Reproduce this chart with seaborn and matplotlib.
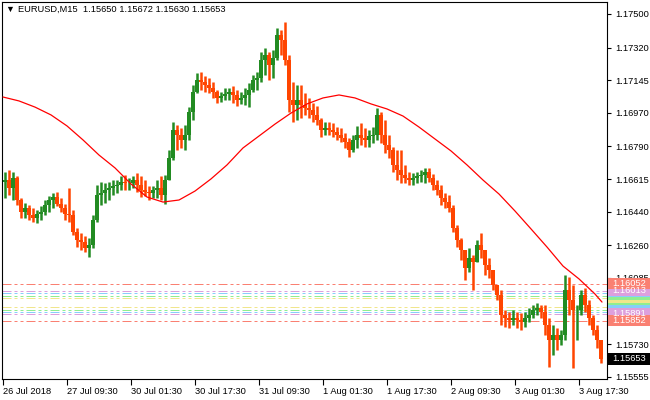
import numpy as np
import pandas as pd
import seaborn as sns
import matplotlib.pyplot as plt
from matplotlib.patches import Rectangle
import matplotlib.transforms as mtransforms

# EURUSD M15, 26 Jul - 3 Aug 2018, one hour (4 bars) at a time
bar_high = [
    1.16653, 1.16664, 1.16653, 1.16632, 1.16514, 1.16487, 1.16476, 1.16460, 1.16449, 1.16471,
    1.16503, 1.16524, 1.16540, 1.16546, 1.16514, 1.16482, 1.16567, 1.16449, 1.16353, 1.16326,
    1.16310, 1.16299, 1.16423, 1.16583, 1.16599, 1.16594, 1.16599, 1.16610, 1.16610, 1.16632,
    1.16637, 1.16621, 1.16632, 1.16648, 1.16632, 1.16610, 1.16578, 1.16578, 1.16610, 1.16632,
    1.16637, 1.16771, 1.16921, 1.16905, 1.16889, 1.16905, 1.17001, 1.17119, 1.17184, 1.17189,
    1.17168, 1.17157, 1.17135, 1.17093, 1.17082, 1.17103, 1.17103, 1.17114, 1.17093, 1.17082,
    1.17103, 1.17130, 1.17173, 1.17189, 1.17296, 1.17318, 1.17296, 1.17307, 1.17425, 1.17414,
    1.17457, 1.17280, 1.17135, 1.17119, 1.17119, 1.17076, 1.17050, 1.17023, 1.17007, 1.16943,
    1.16921, 1.16921, 1.16916, 1.16894, 1.16889, 1.16862, 1.16835, 1.16851, 1.16900, 1.16916,
    1.16889, 1.16878, 1.16894, 1.16996, 1.16975, 1.16932, 1.16851, 1.16787, 1.16771, 1.16771,
    1.16691, 1.16653, 1.16648, 1.16653, 1.16664, 1.16675, 1.16675, 1.16642, 1.16610, 1.16583,
    1.16540, 1.16530, 1.16476, 1.16369, 1.16299, 1.16235, 1.16246, 1.16208, 1.16289, 1.16326,
    1.16208, 1.16192, 1.16128, 1.16047, 1.16021, 1.15913, 1.15903, 1.15913, 1.15903, 1.15897,
    1.15903, 1.15924, 1.15940, 1.15951, 1.15940, 1.15940, 1.15870, 1.15833, 1.15817, 1.15806,
    1.16101, 1.16090, 1.16047, 1.15940, 1.16021, 1.16031, 1.15967, 1.15887, 1.15833, 1.15753,
]
bar_low = [
    1.16514, 1.16530, 1.16503, 1.16476, 1.16406, 1.16406, 1.16396, 1.16385, 1.16380, 1.16396,
    1.16423, 1.16439, 1.16460, 1.16471, 1.16439, 1.16396, 1.16385, 1.16315, 1.16251, 1.16235,
    1.16224, 1.16197, 1.16246, 1.16385, 1.16476, 1.16487, 1.16503, 1.16530, 1.16540, 1.16557,
    1.16557, 1.16557, 1.16567, 1.16546, 1.16519, 1.16524, 1.16503, 1.16514, 1.16514, 1.16503,
    1.16482, 1.16610, 1.16717, 1.16771, 1.16782, 1.16771, 1.16825, 1.16932, 1.17076, 1.17093,
    1.17082, 1.17076, 1.17050, 1.17023, 1.17028, 1.17039, 1.17039, 1.17023, 1.17007, 1.17018,
    1.17012, 1.17001, 1.17082, 1.17093, 1.17135, 1.17173, 1.17146, 1.17157, 1.17253, 1.17280,
    1.17227, 1.16975, 1.16921, 1.16932, 1.16943, 1.16959, 1.16943, 1.16921, 1.16905, 1.16841,
    1.16851, 1.16851, 1.16841, 1.16825, 1.16814, 1.16782, 1.16734, 1.16760, 1.16782, 1.16798,
    1.16787, 1.16787, 1.16809, 1.16825, 1.16809, 1.16755, 1.16728, 1.16653, 1.16610, 1.16594,
    1.16594, 1.16583, 1.16583, 1.16594, 1.16599, 1.16594, 1.16599, 1.16557, 1.16530, 1.16476,
    1.16460, 1.16439, 1.16331, 1.16251, 1.16181, 1.16074, 1.16117, 1.16021, 1.16171, 1.16192,
    1.16101, 1.16085, 1.16021, 1.15967, 1.15833, 1.15822, 1.15817, 1.15833, 1.15817, 1.15806,
    1.15822, 1.15849, 1.15870, 1.15887, 1.15870, 1.15779, 1.15608, 1.15672, 1.15699, 1.15726,
    1.15753, 1.15887, 1.15603, 1.15753, 1.15887, 1.15903, 1.15833, 1.15779, 1.15710, 1.15630,
]
bar_close = [
    1.16610, 1.16567, 1.16621, 1.16503, 1.16439, 1.16460, 1.16423, 1.16406, 1.16428, 1.16439,
    1.16476, 1.16503, 1.16519, 1.16482, 1.16460, 1.16428, 1.16423, 1.16331, 1.16289, 1.16278,
    1.16246, 1.16262, 1.16396, 1.16530, 1.16540, 1.16557, 1.16567, 1.16578, 1.16583, 1.16599,
    1.16594, 1.16594, 1.16610, 1.16583, 1.16557, 1.16546, 1.16540, 1.16557, 1.16567, 1.16530,
    1.16610, 1.16728, 1.16878, 1.16851, 1.16825, 1.16851, 1.16975, 1.17082, 1.17146, 1.17135,
    1.17119, 1.17103, 1.17082, 1.17050, 1.17060, 1.17071, 1.17082, 1.17066, 1.17039, 1.17050,
    1.17066, 1.17093, 1.17146, 1.17157, 1.17253, 1.17280, 1.17227, 1.17264, 1.17387, 1.17361,
    1.17253, 1.17039, 1.17012, 1.17039, 1.17012, 1.16996, 1.16985, 1.16959, 1.16932, 1.16878,
    1.16889, 1.16878, 1.16868, 1.16851, 1.16835, 1.16814, 1.16771, 1.16825, 1.16851, 1.16835,
    1.16825, 1.16846, 1.16851, 1.16959, 1.16851, 1.16798, 1.16771, 1.16691, 1.16664, 1.16637,
    1.16621, 1.16610, 1.16621, 1.16632, 1.16637, 1.16653, 1.16621, 1.16583, 1.16557, 1.16514,
    1.16492, 1.16460, 1.16353, 1.16289, 1.16235, 1.16139, 1.16192, 1.16171, 1.16262, 1.16235,
    1.16155, 1.16128, 1.16047, 1.15994, 1.15887, 1.15870, 1.15860, 1.15870, 1.15860, 1.15849,
    1.15870, 1.15887, 1.15913, 1.15924, 1.15903, 1.15833, 1.15753, 1.15779, 1.15753, 1.15779,
    1.16021, 1.15967, 1.15913, 1.15913, 1.15994, 1.15940, 1.15870, 1.15806, 1.15753, 1.15653,
]
first_open = 1.16600
bars_per_slot = 4

# moving average (red line), sampled every 16 M15 bars
ma_bar = [0, 16, 32, 48, 64, 80, 96, 112, 128, 144, 160, 176, 192, 208, 224, 240, 256, 272, 288,
          304, 320, 336, 352, 368, 384, 400, 416, 432, 448, 464, 480, 496, 512, 528, 544, 560,
          576, 592, 599]
ma_value = [1.17055, 1.17034, 1.17001, 1.16959, 1.16900, 1.16825, 1.16744, 1.16675, 1.16589,
            1.16519, 1.16492, 1.16503, 1.16551, 1.16616, 1.16691, 1.16782, 1.16846, 1.16910,
            1.16969, 1.17018, 1.17050, 1.17066, 1.17050, 1.17018, 1.16991, 1.16953, 1.16894,
            1.16830, 1.16766, 1.16691, 1.16610, 1.16535, 1.16444, 1.16348, 1.16251, 1.16149,
            1.16080, 1.15999, 1.15956]

# horizontal levels (upper / lower pairs), drawn inner first
level_upper = [1.15978, 1.15990, 1.16005, 1.16013, 1.16052]
level_lower = [1.15929, 1.15915, 1.15904, 1.15891, 1.15852]
level_colors = ['#F0E68C', '#90EE90', '#87CEFA', '#DDA0DD', '#FA8072']
level_labelled = [False, False, False, True, True]

y_ticks = [1.17500, 1.17320, 1.17145, 1.16970, 1.16790, 1.16615, 1.16440, 1.16260,
           1.16085, 1.15905, 1.15730, 1.15555]
x_labels = ['26 Jul 2018', '27 Jul 09:30', '30 Jul 01:30', '30 Jul 17:30', '31 Jul 09:30',
            '1 Aug 01:30', '1 Aug 17:30', '2 Aug 09:30', '3 Aug 01:30', '3 Aug 17:30']
x_label_step = 64
last_price = 1.15653
title = 'EURUSD,M15  1.15650 1.15672 1.15630 1.15653'

sns.set_style('white')
plt.rcParams['font.family'] = ['Liberation Sans', 'DejaVu Sans']
fs = 6.7

fig = plt.figure(figsize=(6.5, 4), dpi=100)
ax = fig.add_axes([2 / 650, 21 / 400, 605 / 650, 377 / 400])
ax.set_xlim(-1, 604)
ax.set_ylim(1.155436, 1.175643)

# level lines
for lo, hi, c in zip(level_lower, level_upper, level_colors):
    for v in (lo, hi):
        ax.axhline(v, color=c, lw=0.72, ls=(0, (9, 3, 3, 3, 3, 3)), zorder=1)

# price bars: high-low line plus a wider open-close part
df = pd.DataFrame({'high': bar_high, 'low': bar_low, 'close': bar_close})
df['open'] = df['close'].shift(1).fillna(first_open)
df['x'] = np.arange(len(df)) * bars_per_slot + (bars_per_slot - 1) / 2
df['top'] = df[['open', 'close']].max(axis=1)
df['bot'] = df[['open', 'close']].min(axis=1)
up = df['close'] >= df['open']
for mask, col in [(up, '#228B22'), (~up, '#FF4500')]:
    d = df[mask]
    ax.vlines(d['x'], d['low'], d['high'], color=col, lw=1.8, capstyle='butt', zorder=2)
    ax.vlines(d['x'], d['bot'], d['top'], color=col, lw=2.88, capstyle='butt', zorder=2)

# moving average
sns.lineplot(x=ma_bar, y=ma_value, color='red', lw=0.9, ax=ax, zorder=3)

# axes styling
for s in ax.spines.values():
    s.set_color('black')
    s.set_linewidth(0.8)
ax.yaxis.tick_right()
ax.set_yticks(y_ticks)
ax.set_yticklabels([f'{v:.5f}' if abs(v - 1.15905) > 1e-6 else '' for v in y_ticks])
ax.tick_params(axis='y', direction='out', length=3, width=0.8, pad=3,
               labelsize=fs, colors='black', right=True, left=False)
ax.set_xticks(np.arange(len(x_labels)) * x_label_step)
ax.set_xticklabels(x_labels, ha='left')
ax.tick_params(axis='x', direction='out', length=4, width=0.8, pad=2,
               labelsize=fs, colors='black', bottom=True)
ax.set_xlabel('')
ax.set_ylabel('')

# price tags on the right
trans = mtransforms.blended_transform_factory(ax.transAxes, ax.transData)
px = 1 / 605
unit = (ax.get_ylim()[1] - ax.get_ylim()[0]) / 377
tag_h = 11 * unit
for lo, hi, c, lab in zip(level_lower, level_upper, level_colors, level_labelled):
    for v in (lo, hi):
        ax.add_patch(Rectangle((1 + px, v - tag_h / 2 + unit), 43 * px, tag_h, transform=trans,
                               facecolor=c, edgecolor='none', clip_on=False, zorder=5))
        if lab:
            ax.text(1 + 22 * px, v + unit, f'{v:.5f}', transform=trans, color='white',
                    fontsize=fs, ha='center', va='center', clip_on=False, zorder=6)
ax.add_patch(Rectangle((1 + px, last_price - tag_h * 0.55), 43 * px, tag_h * 1.1,
                       transform=trans, facecolor='black', edgecolor='none',
                       clip_on=False, zorder=5))
ax.text(1 + 22 * px, last_price, f'{last_price:.5f}', transform=trans, color='white',
        fontsize=fs, ha='center', va='center', clip_on=False, zorder=6)

# header
fig.text(5 / 650, 391 / 400, '▼', fontsize=6.5, va='center', ha='left', color='black')
fig.text(18 / 650, 391 / 400, title, fontsize=fs, va='center', ha='left', color='black')

fig.savefig('out.png', dpi=100)
